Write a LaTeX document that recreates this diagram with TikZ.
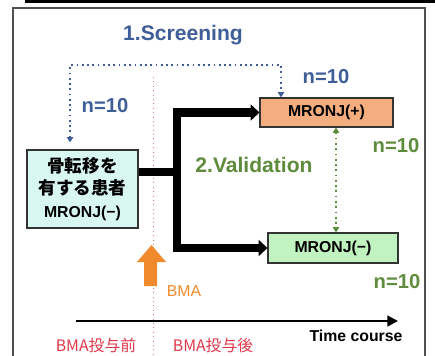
\documentclass[tikz,border=0pt]{standalone}
\usepackage{fontspec}
\setmainfont{Liberation Sans}
\newfontfamily\jpfont{Noto Sans CJK JP}
\usetikzlibrary{arrows.meta}
\definecolor{scrblue}{HTML}{3F5E98}
\definecolor{valgreen}{HTML}{5F8B3C}
\definecolor{bmared}{HTML}{E0384A}
\definecolor{bmaorange}{HTML}{F08A2C}
\definecolor{posfill}{HTML}{F4AD7E}
\definecolor{negfill}{HTML}{C0F3C0}
\definecolor{patfill}{HTML}{D8F7F0}
\definecolor{framegray}{HTML}{505050}

\begin{document}
\begin{tikzpicture}[x=0.02cm,y=-0.02cm]
\tikzstyle{title} = [font=\fontsize{12}{14}\selectfont\bfseries]
\tikzstyle{count} = [font=\fontsize{11.5}{14}\selectfont\bfseries]
\tikzstyle{group} = [draw=black!80, line width=0.6pt, font=\fontsize{9}{11}\selectfont\bfseries, inner sep=0pt]
\tikzstyle{flow} = [draw=black, line width=5pt, line join=miter, -{Triangle[length=5pt,width=9pt]}]
\tikzstyle{screen} = [draw=scrblue, line width=1pt, dotted, {Triangle[length=3pt,width=3.5pt]}-{Triangle[length=3pt,width=3.5pt]}]
\tikzstyle{valid} = [draw=valgreen, line width=1pt, dotted, {Triangle[length=3pt,width=3.5pt]}-{Triangle[length=3pt,width=3.5pt]}]
\tikzstyle{phase} = [text=bmared, font=\jpfont\fontsize{9}{11}\selectfont]

\useasboundingbox (0,0) rectangle (435,355);
\draw[black, line width=1.5pt] (25,1.5) -- (435,1.5);
\draw[framegray, line width=0.8pt] (13,360) -- (13,8) -- (425,8) -- (425,360);

% titles
\node[title, text=scrblue] (scr) at (183,35) {1.Screening};
\node[title, text=valgreen] (val) at (254,165) {2.Validation};

% groups
\node[group, fill=patfill, minimum width=2.22cm, minimum height=1.56cm, align=center,
      font=\jpfont\fontsize{10}{12.8}\selectfont\bfseries] (pat) at (82.5,189)
      {骨転移を\\有する患者\\{\rmfamily\bfseries\fontsize{9}{12.8}\selectfont MRONJ(−)}};
\node[group, fill=posfill, minimum width=2.66cm, minimum height=0.58cm] (pos) at (326.5,112.5) {MRONJ(+)};
\node[group, fill=negfill, minimum width=2.6cm, minimum height=0.6cm] (neg) at (333,248) {MRONJ(−)};

% sample sizes
\node[count, text=scrblue] (n1) at (105,106) {n=10};
\node[count, text=scrblue] (n2) at (326,77) {n=10};
\node[count, text=valgreen] (n3) at (396,146) {n=10};
\node[count, text=valgreen] (n4) at (397,282) {n=10};

% BMA timing
\draw[bmared!70, line width=0.5pt, dotted] (153,77) -- (153,355);
\fill[bmaorange] (144,286) -- (144,262) -- (137,262) -- (151.5,245) -- (166,262) -- (157,262) -- (157,286) -- cycle;
\node[text=bmaorange, font=\fontsize{9}{11}\selectfont] (bma) at (184,291) {BMA};

% screening and validation links
\coordinate (scrL) at (70,65);
\coordinate (scrR) at (281,65);
\coordinate (valx) at (336,0);
\draw[screen, shorten <=4pt] (scrL |- pat.north) -- (scrL) -- (scrR) -- (scrR |- pos.north);
\draw[valid] (valx |- pos.south) -- (valx |- neg.north);

% allocation
\coordinate (jn) at (177,172);
\draw[black, line width=5pt] (pat.east |- jn) -- (jn);
\draw[flow] (jn) |- (pos.west);
\draw[flow] (jn) |- (neg.west);

% time axis
\coordinate (t0) at (76,321);
\coordinate (t1) at (398,321);
\draw[black, line width=1.2pt, -{Triangle[length=6pt,width=6pt]}] (t0) -- (t1);
\node[font=\fontsize{9}{11}\selectfont\bfseries] (tc) at (356,336) {Time course};
\node[phase] (pre) at (96,345) {BMA投与前};
\node[phase] (post) at (213,345) {BMA投与後};
\end{tikzpicture}
\end{document}
